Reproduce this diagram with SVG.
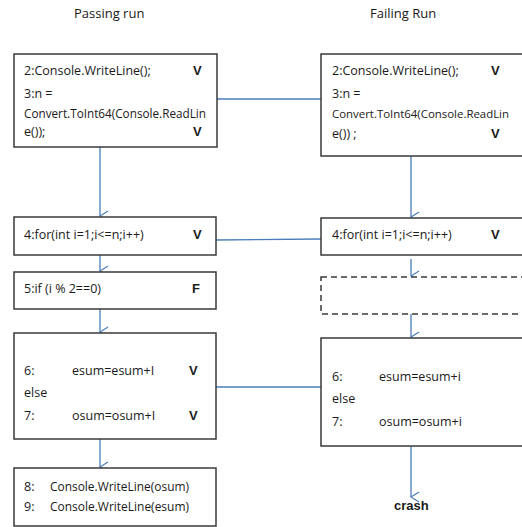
<svg xmlns="http://www.w3.org/2000/svg" width="522" height="527" viewBox="0 0 522 527">
<style>
.box{fill:#fff;stroke:#3a3a3a;stroke-width:1.5}
.dash{fill:#fff;stroke:#3a3a3a;stroke-width:1.5;stroke-dasharray:6 4}
.t{font-family:"Open Sans","Liberation Sans",sans-serif;font-size:12.5px;fill:#1a1a1a}
.b{font-family:"Liberation Sans",sans-serif;font-size:13px;font-weight:bold;fill:#1a1a1a}
.h{font-family:"Open Sans","Liberation Sans",sans-serif;font-size:13px;fill:#1a1a1a}
.c{fill:none;stroke:#4a7ebb;stroke-width:1.3}
</style>
<defs>
<marker id="ah" viewBox="0 0 12 12" refX="6" refY="11" markerWidth="12" markerHeight="12" markerUnits="userSpaceOnUse" orient="auto-start-reverse">
<path d="M1,3 L6,11 L11,3" fill="none" stroke="#4a7ebb" stroke-width="1.2"/>
</marker>
</defs>
<text class="h" x="74" y="18">Passing run</text>
<text class="h" x="370" y="18">Failing Run</text>
<g id="connectors">
<line class="c" x1="217" y1="99" x2="321" y2="99"/>
<line class="c" x1="216" y1="240" x2="321" y2="239"/>
<line class="c" x1="216" y1="387" x2="321" y2="387"/>
<line class="c" x1="100" y1="147" x2="100" y2="216" marker-end="url(#ah)"/>
<line class="c" x1="100" y1="255" x2="100" y2="271" marker-end="url(#ah)"/>
<line class="c" x1="100" y1="309" x2="100" y2="332" marker-end="url(#ah)"/>
<line class="c" x1="100" y1="439" x2="100" y2="467" marker-end="url(#ah)"/>
<line class="c" x1="411" y1="156" x2="411" y2="217" marker-end="url(#ah)"/>
<line class="c" x1="411" y1="259" x2="411" y2="276" marker-end="url(#ah)"/>
<line class="c" x1="411" y1="314" x2="411" y2="337" marker-end="url(#ah)"/>
<line class="c" x1="411" y1="446" x2="411" y2="497" marker-end="url(#ah)"/>
</g>
<g id="p1">
<rect class="box" x="14" y="54" width="203" height="93"/>
<text class="t" x="24" y="75">2:Console.WriteLine();</text>
<text class="b" x="193" y="75">V</text>
<text class="t" x="24" y="98">3:n =</text>
<text class="t" x="24" y="118" textLength="182" lengthAdjust="spacingAndGlyphs">Convert.ToInt64(Console.ReadLin</text>
<text class="t" x="24" y="136">e());</text>
<text class="b" x="193" y="136">V</text>
</g>
<g id="f1">
<rect class="box" x="321" y="54" width="220" height="102"/>
<text class="t" x="332" y="75">2:Console.WriteLine();</text>
<text class="b" x="491" y="75">V</text>
<text class="t" x="332" y="98">3:n =</text>
<text class="t" x="332" y="118" style="font-size:11.2px" textLength="177" lengthAdjust="spacingAndGlyphs">Convert.ToInt64(Console.ReadLin</text>
<text class="t" x="332" y="138">e()) ;</text>
<text class="b" x="491" y="138">V</text>
</g>
<g id="p4">
<rect class="box" x="14" y="217" width="202" height="38"/>
<text class="t" x="24" y="239">4:for(int i=1;i&lt;=n;i++)</text>
<text class="b" x="193" y="239">V</text>
</g>
<g id="f4">
<rect class="box" x="321" y="218" width="220" height="37"/>
<text class="t" x="332" y="239">4:for(int i=1;i&lt;=n;i++)</text>
<text class="b" x="491" y="239">V</text>
</g>
<g id="p5">
<rect class="box" x="14" y="272" width="202" height="37"/>
<text class="t" x="24" y="293">5:if (i % 2==0)</text>
<text class="b" x="192" y="293">F</text>
</g>
<g id="f5">
<rect class="dash" x="321" y="277" width="220" height="37"/>
</g>
<g id="p67">
<rect class="box" x="14" y="333" width="202" height="106"/>
<text class="t" x="24" y="375">6:</text>
<text class="t" x="72" y="375">esum=esum+I</text>
<text class="b" x="189" y="375">V</text>
<text class="t" x="24" y="397">else</text>
<text class="t" x="24" y="420">7:</text>
<text class="t" x="72" y="420">osum=osum+I</text>
<text class="b" x="189" y="420">V</text>
</g>
<g id="f67">
<rect class="box" x="321" y="338" width="220" height="108"/>
<text class="t" x="332" y="381">6:</text>
<text class="t" x="379" y="381">esum=esum+i</text>
<text class="t" x="332" y="403">else</text>
<text class="t" x="332" y="426">7:</text>
<text class="t" x="379" y="426">osum=osum+i</text>
</g>
<g id="p89">
<rect class="box" x="14" y="468" width="202" height="58"/>
<text class="t" x="24" y="491">8:</text>
<text class="t" x="50" y="491" textLength="139" lengthAdjust="spacingAndGlyphs">Console.WriteLine(osum)</text>
<text class="t" x="24" y="511">9:</text>
<text class="t" x="50" y="511" textLength="139" lengthAdjust="spacingAndGlyphs">Console.WriteLine(esum)</text>
</g>
<g id="crash">
<text class="b" x="394" y="510">crash</text>
</g>
</svg>
